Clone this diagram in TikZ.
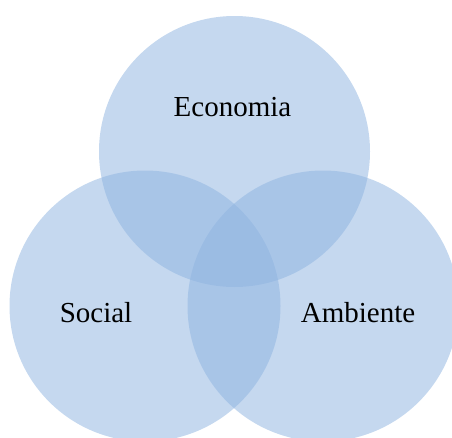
\documentclass[tikz,border=0pt]{standalone}
\usepackage{fontspec}
\setmainfont{Liberation Serif}
\definecolor{vennblue}{RGB}{143,180,224}
\tikzset{
  venn/.style={circle, fill=vennblue, fill opacity=0.52, minimum size=271pt, inner sep=0pt, draw=none},
  lbl/.style={anchor=base, font=\fontsize{29}{32}\selectfont, text=black}
}
\begin{document}
\begin{tikzpicture}[x=1pt,y=-1pt]
\useasboundingbox (0,0) rectangle (452,437);
\clip (0,0) rectangle (452,437);
\node[venn] (eco) at (234.5,151.5) {};
\node[venn] (soc) at (145,306) {};
\node[venn] (amb) at (323,306) {};
\node[lbl] (teco) at (232.5,116.5) {Economia};
\node[lbl] (tsoc) at (96,322.5) {Social};
\node[lbl] (tamb) at (358,322.5) {Ambiente};
\end{tikzpicture}
\end{document}
